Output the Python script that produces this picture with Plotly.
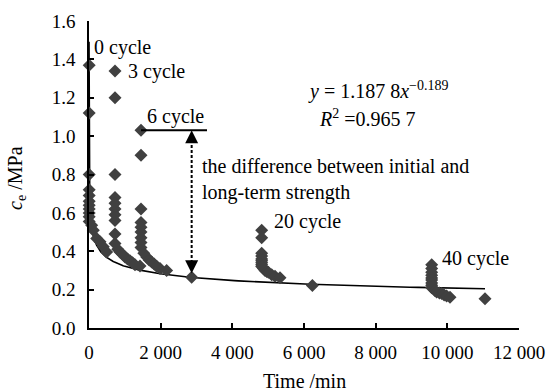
import numpy as np
import plotly.graph_objects as go

# ---- measured cohesion c_e (MPa) versus time (min) ----
time_0 = [5, 5, 5, 5, 5, 5, 5, 5, 5, 5, 5, 75, 120, 215, 307, 400, 493]
ce_0 = [1.37, 1.12, 0.80, 0.72, 0.69, 0.66, 0.64, 0.62, 0.60, 0.58, 0.555,
        0.535, 0.51, 0.466, 0.449, 0.423, 0.396]

time_3 = [726, 726, 726, 726, 726, 726, 726, 726, 726, 726,
          800, 865, 935, 1005, 1075, 1144, 1215, 1284, 1423]
ce_3 = [1.34, 1.20, 0.80, 0.68, 0.65, 0.62, 0.59, 0.56, 0.49, 0.44,
        0.41, 0.396, 0.385, 0.37, 0.36, 0.35, 0.34, 0.33, 0.323]

time_6 = [1451, 1451, 1451, 1451, 1451, 1451, 1451, 1451, 1451,
          1530, 1609, 1680, 1749, 1820, 1888, 1981, 2167]
ce_6 = [1.03, 0.90, 0.62, 0.55, 0.525, 0.50, 0.47, 0.445, 0.42,
        0.39, 0.37, 0.355, 0.344, 0.333, 0.322, 0.31, 0.30]

time_mid = [2865, 6233]
ce_mid = [0.265, 0.222]

time_20 = [4819, 4819, 4819, 4819, 4819, 4819, 4819, 4819, 4819,
           4870, 4912, 4960, 5005, 5098, 5191, 5330]
ce_20 = [0.51, 0.47, 0.39, 0.375, 0.36, 0.35, 0.34, 0.33, 0.32,
         0.31, 0.30, 0.295, 0.29, 0.278, 0.27, 0.262]

time_40 = [9563, 9563, 9563, 9563, 9563, 9563, 9563, 9563, 9563,
           9650, 9702, 9780, 9842, 9910, 9981, 10074, 11051]
ce_40 = [0.33, 0.31, 0.29, 0.275, 0.26, 0.25, 0.235, 0.223, 0.21,
         0.195, 0.188, 0.183, 0.18, 0.172, 0.167, 0.16, 0.152]

# power-law fit y = a * x^b
fit_a = 1.1878
fit_b = -0.189
fit_r2 = 0.9657
fit_x_end = 11051

# initial strength (6 cycle) and long-term strength marked on the chart
initial_strength = 1.03
long_term_time = 2865
long_term_strength = 0.265
level_line_x = [1451, 3293]

x_ticks = [0, 2000, 4000, 6000, 8000, 10000, 12000]
x_tick_text = ["0", "2 000", "4 000", "6 000", "8 000", "10 000", "12 000"]
y_ticks = [0.0, 0.2, 0.4, 0.6, 0.8, 1.0, 1.2, 1.4, 1.6]
y_tick_text = ["0.0", "0.2", "0.4", "0.6", "0.8", "1.0", "1.2", "1.4", "1.6"]

FONT = "'Liberation Serif', 'Times New Roman', 'DejaVu Serif', serif"
MARK = "#404040"

all_t = time_0 + time_3 + time_6 + time_mid + time_20 + time_40
all_c = ce_0 + ce_3 + ce_6 + ce_mid + ce_20 + ce_40

fig = go.Figure()

fit_x = np.geomspace(0.3, fit_x_end, 400)
fig.add_trace(go.Scatter(x=fit_x, y=fit_a * fit_x ** fit_b, mode="lines",
                         line=dict(color="black", width=1.6),
                         hoverinfo="skip", showlegend=False))

fig.add_trace(go.Scatter(x=all_t, y=all_c, mode="markers",
                         marker=dict(symbol="diamond", size=10, color=MARK),
                         showlegend=False, cliponaxis=False))

# horizontal level of the initial strength
fig.add_trace(go.Scatter(x=level_line_x, y=[initial_strength] * 2, mode="lines",
                         line=dict(color="black", width=2), showlegend=False))

# dashed double arrow between initial and long-term strength
head_len = 0.05
fig.add_trace(go.Scatter(x=[long_term_time] * 2,
                         y=[initial_strength - head_len, long_term_strength + 0.02 + head_len],
                         mode="lines", line=dict(color="black", width=2, dash="3px,2px"),
                         showlegend=False))

annotations = []
for tip, tail in [(initial_strength, initial_strength - head_len - 0.01),
                  (long_term_strength + 0.02, long_term_strength + 0.02 + head_len + 0.01)]:
    annotations.append(dict(x=long_term_time, y=tip, ax=long_term_time, ay=tail,
                            xref="x", yref="y", axref="x", ayref="y", text="",
                            showarrow=True, arrowhead=2, arrowsize=1.3, arrowwidth=2,
                            arrowcolor="black"))

txt = dict(xref="x", yref="y", showarrow=False, font=dict(family=FONT, size=20, color="black"))
annotations += [
    dict(x=84, y=1.464, text="0 cycle", xanchor="left", **txt),
    dict(x=1033, y=1.339, text="3 cycle", xanchor="left", **txt),
    dict(x=1563, y=1.10, text="6 cycle", xanchor="left", **txt),
    dict(x=5100, y=0.553, text="20 cycle", xanchor="left", **txt),
    dict(x=9795, y=0.362, text="40 cycle", xanchor="left", **txt),
    dict(x=3098, y=0.773, text="the difference between initial and<br>long-term strength",
         xanchor="left", align="left", **txt),
    dict(x=8065, y=1.24, xanchor="center",
         text=f"<i>y</i> = {fit_a:.4f}".replace("1.1878", "1.187 8")
              + f"<i>x</i><sup>\u2212{abs(fit_b):.3f}</sup>", **txt),
    dict(x=7760, y=1.092, xanchor="center",
         text=f"<i>R</i><sup>2</sup> ={fit_r2:.4f}".replace("0.9657", "0.965 7"), **txt),
]

# axis titles placed relative to the plotting area
title_font = dict(family=FONT, size=20, color="black")
annotations += [
    dict(xref="paper", yref="paper", x=0.5, y=0, yshift=-53, xanchor="center",
         yanchor="middle", showarrow=False, text="Time /min", font=title_font),
    dict(xref="paper", yref="paper", x=0, y=0.489, xshift=-72, xanchor="center",
         yanchor="middle", showarrow=False, textangle=-90,
         text="<i>c</i><sub>e</sub> /MPa", font=title_font),
]

axis_common = dict(showgrid=False, zeroline=False, showline=True, linecolor="black",
                   linewidth=1.5, ticks="inside", ticklen=5, tickwidth=1.5,
                   tickcolor="black", mirror=False, automargin=False,
                   tickfont=dict(family=FONT, size=19, color="black"))

fig.update_layout(
    width=553, height=391,
    margin=dict(l=89, r=34, t=21, b=63),
    paper_bgcolor="white", plot_bgcolor="white",
    font=dict(family=FONT, color="black"),
    annotations=annotations,
    xaxis=dict(range=[0, 12000], tickvals=x_ticks, ticktext=x_tick_text,
               ticklabelstandoff=6, **axis_common),
    yaxis=dict(range=[0, 1.6], tickvals=y_ticks, ticktext=y_tick_text,
               ticklabelstandoff=8, **axis_common),
)

fig.write_html("out.html")
